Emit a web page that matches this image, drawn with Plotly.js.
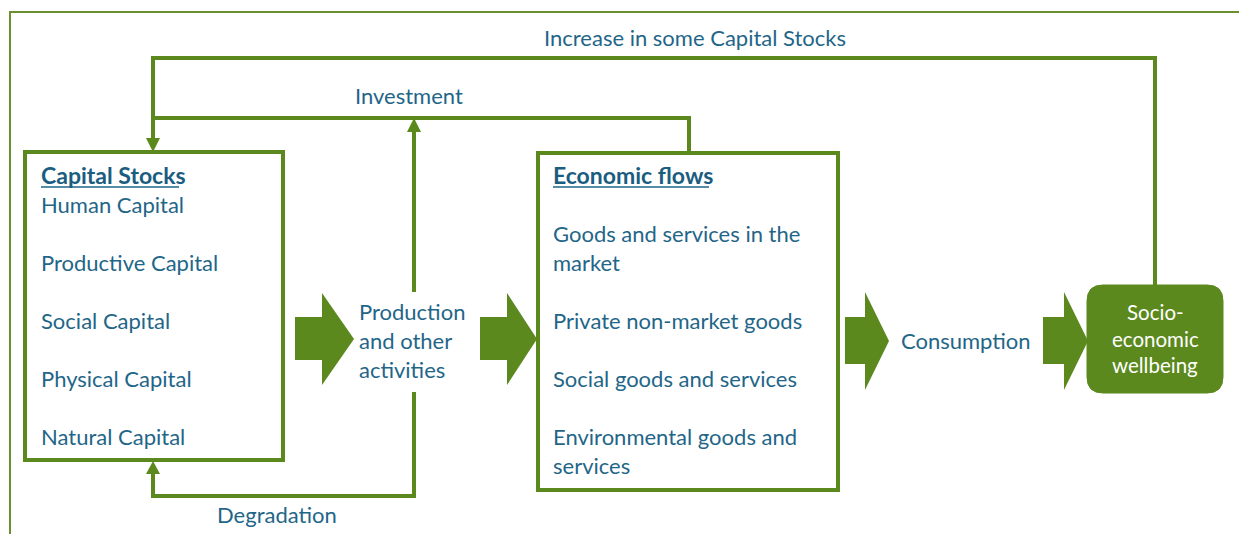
<!DOCTYPE html>
<html><head><meta charset="utf-8">
<script src="https://cdn.plot.ly/plotly-3.0.1.min.js"></script>
<style>html,body{margin:0;padding:0;background:#fff}#g{width:1239px;height:534px}</style>
</head><body><div id="g"></div>
<script>
// ---- text content ----
const flowLabels = ["Increase in some Capital Stocks", "Investment", "Degradation", "Consumption"];
const capitalTitle = "Capital Stocks";
const capitalItems = ["Human Capital", "Productive Capital", "Social Capital", "Physical Capital", "Natural Capital"];
const productionLabel = ["Production", "and other", "activities"];
const flowsTitle = "Economic flows";
const flowsItems = [["Goods and services in the", "market"], ["Private non-market goods"], ["Social goods and services"], ["Environmental goods and", "services"]];
const wellbeingLabel = ["Socio-", "economic", "wellbeing"];

// ---- styling / geometry ----
const G = "#5b891d", GF = "#6b9030", T = "#1f6688";
const FONT = "Lato, 'Open Sans', sans-serif";
const FS = 22;
const shapes = [], ann = [];

function line(pts, w, c) {
  let d = "M" + pts.map(p => p[0] + "," + p[1]).join(" L");
  shapes.push({type: "path", path: d, line: {color: c || G, width: w || 4}, layer: "below"});
}
function poly(pts, c) {
  let d = "M" + pts.map(p => p[0] + "," + p[1]).join(" L") + " Z";
  shapes.push({type: "path", path: d, fillcolor: c || G, line: {width: 0}});
}
function rect(x0, y0, x1, y1, w) {
  shapes.push({type: "rect", x0, y0, x1, y1, line: {color: G, width: w || 4}, fillcolor: "rgba(0,0,0,0)"});
}
function blockArrow(x0, xh, xt, ys0, ys1, yh0, yh1) {
  const ym = (yh0 + yh1) / 2;
  poly([[x0, ys0], [xh, ys0], [xh, yh0], [xt, ym], [xh, yh1], [xh, ys1], [x0, ys1]]);
}
function txt(s, x, y, opts) {
  ann.push(Object.assign({text: s, x, y, xref: "x", yref: "y", showarrow: false, align: "left",
    font: {family: FONT, size: FS, color: T}, xanchor: "left", yanchor: "middle"}, opts || {}));
}

// outer frame
line([[10, 540], [10, 12], [1245, 12]], 2, GF);

// loops
line([[1155, 287], [1155, 58], [153, 58], [153, 140]], 4);
line([[689, 154], [689, 118], [153, 118]], 4);
line([[414, 292], [414, 130]], 4);
line([[414, 392], [414, 496], [153, 496], [153, 472]], 4);
// arrowheads
poly([[146, 138], [160, 138], [153, 152]]);
poly([[407, 132], [421, 132], [414, 118]]);
poly([[146, 474], [160, 474], [153, 461]]);

// boxes
rect(25, 152, 283, 460, 4);
rect(538, 153, 838, 490, 4);

// block arrows
blockArrow(295, 322, 354, 317, 360, 293, 385);
blockArrow(480, 507, 537, 317, 360, 293, 385);
blockArrow(845, 865, 889, 317, 364, 292, 390);
blockArrow(1043, 1064, 1088, 317, 364, 292, 390);

// wellbeing rounded box
(function () {
  const x0 = 1087, x1 = 1223, y0 = 285, y1 = 393, r = 16;
  const d = `M${x0 + r},${y0} L${x1 - r},${y0} Q${x1},${y0} ${x1},${y0 + r} L${x1},${y1 - r} Q${x1},${y1} ${x1 - r},${y1} L${x0 + r},${y1} Q${x0},${y1} ${x0},${y1 - r} L${x0},${y0 + r} Q${x0},${y0} ${x0 + r},${y0} Z`;
  shapes.push({type: "path", path: d, fillcolor: G, line: {color: G, width: 1}});
})();

// flow labels
txt(flowLabels[0], 695, 37, {xanchor: "center"});
txt(flowLabels[1], 409, 95, {xanchor: "center"});
txt(flowLabels[2], 277, 514, {xanchor: "center"});
txt(flowLabels[3], 899, 340);

// capital box
const HF = {family: FONT, size: 23, color: "#1a5d80"};
txt("<b>" + capitalTitle + "</b>", 39, 175, {font: HF});
line([[41, 187], [179, 187]], 1.5, T);
capitalItems.forEach((s, i) => txt(s, 39, 204 + 58 * i));

// production
productionLabel.forEach((s, i) => txt(s, 357, 311 + 29 * i));

// economic flows
txt("<b>" + flowsTitle + "</b>", 551, 175, {font: HF});
line([[553, 187], [709, 187]], 1.5, T);
const fy = [233, 320, 378, 436];
flowsItems.forEach((arr, i) => arr.forEach((s, j) => txt(s, 551, fy[i] + 29 * j)));

// wellbeing text
wellbeingLabel.forEach((s, i) => txt(s, 1155, 312 + 26.5 * i, {xanchor: "center", font: {family: FONT, size: 20.5, color: "#ffffff"}}));

const layout = {
  width: 1239, height: 534, margin: {l: 0, r: 0, t: 0, b: 0},
  paper_bgcolor: "#fff", plot_bgcolor: "#fff", showlegend: false,
  xaxis: {range: [0, 1239], visible: false, fixedrange: true},
  yaxis: {range: [534, 0], visible: false, fixedrange: true},
  shapes, annotations: ann
};
Plotly.newPlot("g", [], layout, {staticPlot: true, displayModeBar: false});
</script></body></html>
